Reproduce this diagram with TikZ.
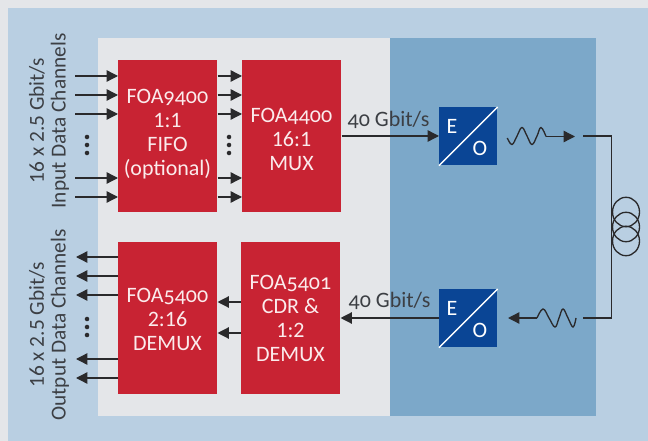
\documentclass[tikz,border=0pt]{standalone}
\usepackage{fontspec}
\setmainfont{Carlito}[Numbers=Lining]
\newfontfamily\oldnum{Carlito}[Numbers=OldStyle]
\usetikzlibrary{arrows.meta,calc}
\definecolor{pagegrey}{HTML}{E4E6E9}
\definecolor{lightblue}{HTML}{B9CFE2}
\definecolor{midblue}{HTML}{7CA8C9}
\definecolor{deepblue}{HTML}{0A4595}
\definecolor{boxred}{HTML}{C82333}
\definecolor{inkc}{HTML}{2A2A2C}
\definecolor{labelc}{HTML}{3C3F44}
\definecolor{boxtext}{HTML}{FBEBEC}
\tikzset{
  x=0.75pt,y=-0.75pt,
  redbox/.style={fill=boxred,anchor=north west,inner sep=0pt,minimum height=114pt,minimum width=74.25pt},
  redtext/.style={text=boxtext,inner sep=0pt,align=center,font=\fontsize{16.5}{18}\selectfont},
  eobox/.style={fill=deepblue,anchor=north west,inner sep=0pt,minimum width=43.5pt,minimum height=43.5pt},
  eotext/.style={text=white,font=\fontsize{16.5}{18}\selectfont,inner sep=0pt},
  arr/.style={draw=inkc,line width=1pt,-{Triangle[length=8.5pt,width=8.5pt]},shorten >=0pt},
  wire/.style={draw=inkc,line width=1pt},
  coil/.style={draw=inkc,line width=1pt},
  rate/.style={text=labelc,font=\fontsize{16.5}{18}\selectfont,inner sep=0pt},
  sidetext/.style={text=labelc,rotate=90,font=\fontsize{16}{18}\selectfont,inner sep=0pt},
  dotc/.style={fill=inkc,circle,inner sep=0pt,minimum size=3.4pt}
}
\begin{document}
\begin{tikzpicture}
\useasboundingbox (0,0) rectangle (648,441);
\fill[pagegrey] (0,0) rectangle (648,441);
\fill[lightblue] (8,8) rectangle (648,441);
\fill[pagegrey] (98,38) rectangle (390,416);
\fill[midblue] (390,38) rectangle (595.5,416);

\node[redbox] (fifo) at (118,60) {};
\node[redbox] (mux) at (242,60) {};
\node[redbox] (demux) at (118,242) {};
\node[redbox] (cdr) at (241,242) {};
\node[redtext] (fifot) at (167.5,134.5) {{\oldnum FOA9400}\\1:1\\FIFO\\(optional)};
\node[redtext] (muxt) at (291.5,139.5) {{\oldnum FOA4400}\\16:1\\MUX};
\node[redtext] (demuxt) at (167.5,319) {{\oldnum FOA5400}\\2:16\\DEMUX};
\node[redtext] (cdrt) at (290.5,318) {{\oldnum FOA5401}\\CDR \&\\1:2\\DEMUX};

\node[eobox] (eotop) at (439,107) {};
\node[eobox] (eobot) at (439,289) {};
\draw[white,line width=1.1pt] (eotop.south west) -- (eotop.north east);
\draw[white,line width=1.1pt] (eobot.south west) -- (eobot.north east);
\node[eotext] (e1) at (452,126) {E};
\node[eotext] (o1) at (480,148) {O};
\node[eotext] (e2) at (452,308) {E};
\node[eotext] (o2) at (480,330) {O};

% input channels
\foreach \i/\y in {1/76,2/95,3/114,4/178,5/197}{
  \coordinate (in\i) at (75,\y);
  \draw[arr] (in\i) -- (fifo.west |- in\i);
  \draw[arr] (fifo.east |- in\i) -- (mux.west |- in\i);
}
% output channels
\foreach \i/\y in {1/257,2/276,3/295,4/359,5/378}{
  \coordinate (out\i) at (76,\y);
  \draw[arr] (demux.west |- out\i) -- (out\i);
}
\foreach \i/\y in {1/302,2/333}{
  \coordinate (mid\i) at (230,\y);
  \draw[arr] (cdr.west |- mid\i) -- (demux.east |- mid\i);
}
% 40 Gbit/s
\coordinate (tx) at (400,136);
\coordinate (rx) at (400,318);
\draw[arr] (mux.east |- tx) -- (eotop.west |- tx);
\draw[arr] (eobot.west |- rx) -- (cdr.east |- rx);
\node[rate] (ratetop) at (388.5,120) {\oldnum 40 Gbit/s};
\node[rate] (ratebot) at (389.5,300.5) {\oldnum 40 Gbit/s};

% optical waves
\coordinate (txw) at (546,136.5);
\coordinate (txa) at (575,136.5);
\coordinate (rxw) at (537,318);
\coordinate (rxa) at (508,318);
\draw[wire] plot[smooth,tension=0.7] coordinates {(507.3,138) (512,144.5) (517,136) (522,127.5) (527,136) (532,144.5) (537,136) (541,127.5) (546,136.5)};
\draw[arr] (txw) -- (txa);
\draw[wire] plot[smooth,tension=0.7] coordinates {(537,318) (543,309) (549,318) (555,327) (559,318) (563,309) (568,318) (573,327) (576,318)};
\draw[arr] (rxw) -- (rxa);

% fibre
\coordinate (fa) at (583,136);
\coordinate (fb) at (583,318);
\coordinate (fx) at (611.5,227);
\draw[wire,line width=1.1pt] (fa) -| (fx) |- (fb);
\foreach \cy in {212,227,241}{
  \draw[coil] (626,\cy) ellipse (13.5 and 14.7);
}

% dots
\foreach \x/\y in {87/137,87/145,87/153,229/137,229/145,229/153,87/319,87/327,87/335}{
  \node[dotc] at (\x,\y) {};
}

\node[sidetext] (t1) at (37,120.5) {16 x 2.5 Gbit/s};
\node[sidetext] (t2) at (60,121) {Input Data Channels};
\node[sidetext] (t3) at (37,325) {16 x 2.5 Gbit/s};
\node[sidetext] (t4) at (60,325) {Output Data Channels};
\end{tikzpicture}
\end{document}
